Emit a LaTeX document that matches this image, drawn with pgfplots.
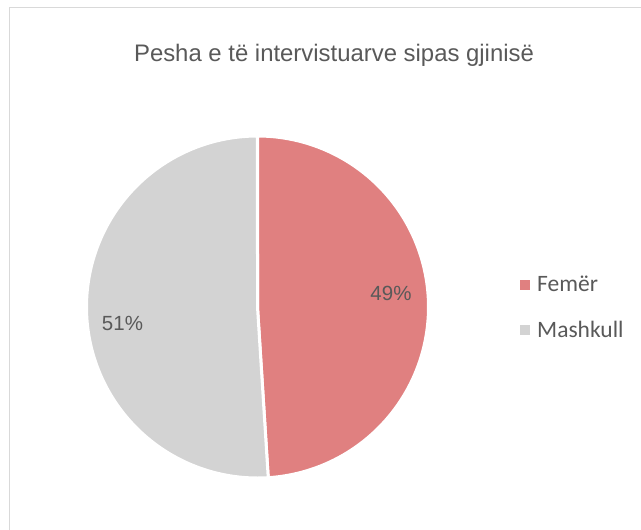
\documentclass[border=0pt]{standalone}
\usepackage{pgfplots}
\pgfplotsset{compat=1.18}
\usepackage{fontspec}
\setmainfont{Liberation Sans}
\newfontfamily\legfont{Carlito}
\definecolor{pieRed}{RGB}{224,128,128}
\definecolor{pieGray}{RGB}{211,211,211}
\definecolor{txt}{RGB}{89,89,89}
\definecolor{frame}{RGB}{217,217,217}
% data (percent)
\def\femer{49}
\def\mashkull{51}
\def\cx{257.5}
\def\cy{307}
\def\R{171}
\begin{document}
\begin{tikzpicture}
\begin{axis}[
  scale only axis, width=641bp, height=530bp,
  xmin=0, xmax=641, ymin=0, ymax=530, y dir=reverse,
  hide axis, clip=false,
]
% frame
\addplot[draw=frame, line width=1.6bp] coordinates {(9.5,530) (9.5,7.3) (641,7.3)};
% Femer slice (clockwise from top)
\addplot[fill=pieRed, draw=white, line width=3bp, domain=0:{\femer*3.6}, samples=200, variable=\t]
  ({\cx+\R*sin(\t)},{\cy-\R*cos(\t)}) -- (axis cs:\cx,\cy) -- cycle;
% Mashkull slice
\addplot[fill=pieGray, draw=white, line width=3bp, domain={\femer*3.6}:{(\femer+\mashkull)*3.6}, samples=200, variable=\t]
  ({\cx+\R*sin(\t)},{\cy-\R*cos(\t)}) -- (axis cs:\cx,\cy) -- cycle;
% legend squares
\addplot[only marks, mark=square*, mark size=4.5bp, mark options={fill=pieRed, draw=pieRed}] coordinates {(525,285)};
\addplot[only marks, mark=square*, mark size=4.5bp, mark options={fill=pieGray, draw=pieGray}] coordinates {(525,330)};
% texts
\node[anchor=base, text=txt, font=\fontsize{23.9bp}{28bp}\selectfont] at (axis cs:334,61) {Pesha e të intervistuarve sipas gjinisë};
\node[anchor=base, text=txt, font=\fontsize{20.5bp}{24bp}\selectfont] at (axis cs:391,300.7) {49\%};
\node[anchor=base, text=txt, font=\fontsize{20.5bp}{24bp}\selectfont] at (axis cs:122.5,330.7) {51\%};
\node[anchor=base west, inner sep=0pt, text=txt, font=\legfont\fontsize{23.5bp}{27bp}\selectfont] at (axis cs:537,291.7) {Femër};
\node[anchor=base west, inner sep=0pt, text=txt, font=\legfont\fontsize{23.5bp}{27bp}\selectfont] at (axis cs:537,337) {Mashkull};
\end{axis}
\pgfresetboundingbox
\path[use as bounding box] (0,0) rectangle (641bp,530bp);
\end{tikzpicture}
\end{document}
